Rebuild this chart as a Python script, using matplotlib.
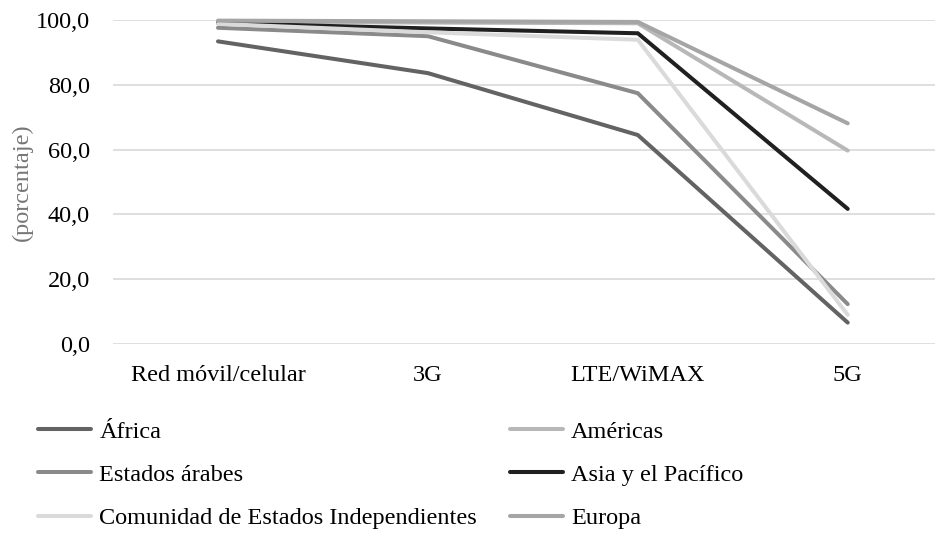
import matplotlib.pyplot as plt
from matplotlib.ticker import FuncFormatter

plt.rcParams['font.family'] = ['Liberation Serif', 'DejaVu Serif']

# cobertura de red por tecnología (%)
categorias = ['Red móvil/celular', '3G', 'LTE/WiMAX', '5G']
africa = [93.4, 83.6, 64.5, 6.6]
americas = [99.5, 99.2, 99.0, 59.7]
estados_arabes = [97.6, 95.0, 77.4, 12.3]
asia_pacifico = [99.0, 97.4, 95.9, 41.7]
cei = [98.8, 96.2, 93.9, 9.0]
europa = [99.8, 99.6, 99.4, 68.1]

series = [
    ('África', africa, '#636363'),
    ('Américas', americas, '#b8b8b8'),
    ('Estados árabes', estados_arabes, '#8a8a8a'),
    ('Asia y el Pacífico', asia_pacifico, '#202020'),
    ('Comunidad de Estados Independientes', cei, '#dadada'),
    ('Europa', europa, '#a5a5a5'),
]

fs = 17.5

fig = plt.figure(figsize=(9.35, 5.33), dpi=100)
ax = fig.add_axes([0.1209, 0.3546, 0.898, 0.6079])

x = range(len(categorias))
lineas = {}
for nombre, vals, color in series:
    ln, = ax.plot(x, vals, color=color, lw=2.9, solid_capstyle='round',
                  solid_joinstyle='miter', clip_on=False, label=nombre)
    lineas[nombre] = ln

ax.set_xlim(-0.5, 3.5)
ax.set_ylim(0, 100)
ax.set_yticks(range(0, 101, 20))
ax.yaxis.set_major_formatter(FuncFormatter(lambda v, p: f'{v:.1f}'.replace('.', ',')))
ax.set_xticks(list(x))
ax.set_xticklabels(categorias)
ax.tick_params(axis='both', length=0, labelsize=fs, colors='#000000')
ax.tick_params(axis='y', pad=16.5)
ax.tick_params(axis='x', pad=15)
ax.grid(axis='y', color='#d9d9d9', lw=1.2)
ax.set_axisbelow(True)
for s in ax.spines.values():
    s.set_visible(False)

fig.text(0.024, 0.658, '(porcentaje)', rotation=90, ha='center', va='center',
         fontsize=fs, color='#767676')

orden = ['África', 'Estados árabes', 'Comunidad de Estados Independientes',
         'Américas', 'Asia y el Pacífico', 'Europa']
fig.legend([lineas[n] for n in orden], orden, ncol=2, frameon=False,
           loc='upper left', bbox_to_anchor=(0.0406, 0.211), fontsize=fs,
           handlelength=2.2, handletextpad=0.33, columnspacing=1.33,
           labelspacing=0.88, borderaxespad=0, borderpad=0)

fig.savefig('out.png', dpi=100)
